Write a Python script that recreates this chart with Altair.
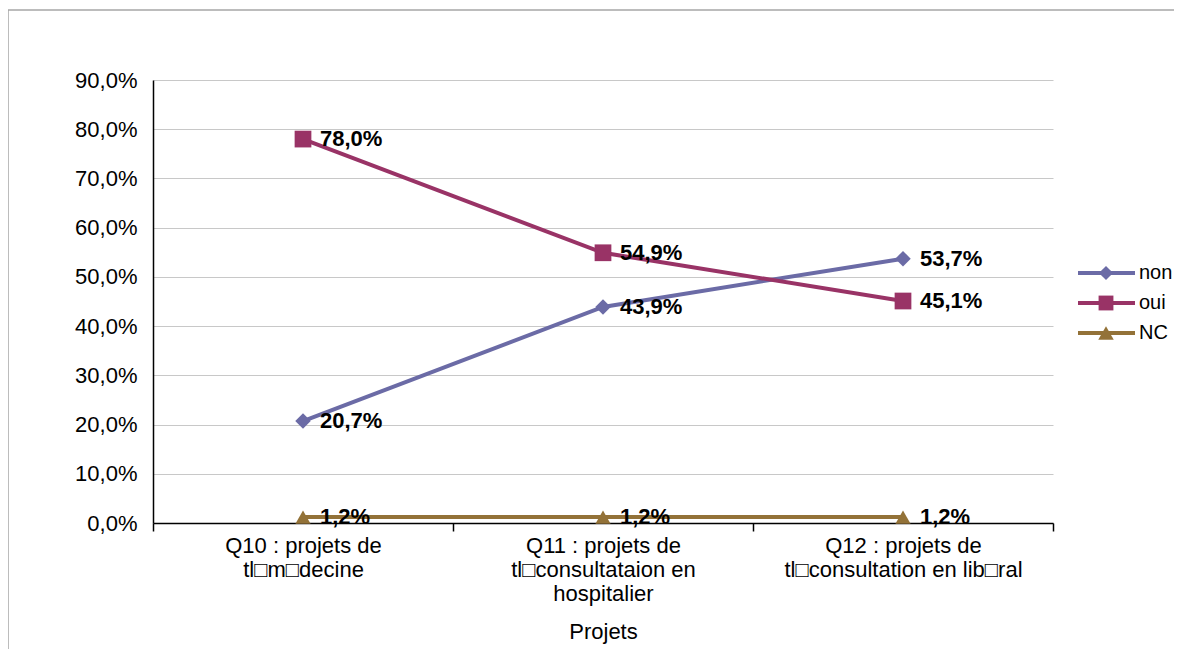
import altair as alt
import pandas as pd

categories = [
    "Q10 : projets de|tl\u25a1m\u25a1decine",
    "Q11 : projets de|tl\u25a1consultataion en|hospitalier",
    "Q12 : projets de|tl\u25a1consultation en lib\u25a1ral",
]
series_names = ["non", "oui", "NC"]
non_vals = [20.7, 43.9, 53.7]
oui_vals = [78.0, 54.9, 45.1]
nc_vals = [1.2, 1.2, 1.2]
y_ticks = [0, 10, 20, 30, 40, 50, 60, 70, 80, 90]
colors = ["#6B6BA6", "#993366", "#937238"]
shapes = ["diamond", "square", "triangle-up"]
shape_sizes = [240, 280, 230]

rows = []
for name, vals in zip(series_names, [non_vals, oui_vals, nc_vals]):
    for c, v in zip(categories, vals):
        rows.append({"cat": c, "series": name, "value": v,
                     "label": f"{v:.1f}".replace(".", ",") + "%"})
df = pd.DataFrame(rows)
legend_df = pd.DataFrame({"series": series_names})

FONT = "Liberation Sans"
FS = 22

x_enc = alt.X("cat:N", sort=categories, title="Projets",
              scale=alt.Scale(paddingInner=0, paddingOuter=0),
              axis=alt.Axis(labelExpr="split(datum.label, '|')", labelAngle=0,
                            tickBand="extent", tickSize=8, tickColor="black",
                            domainColor="black", domainWidth=1.5, tickWidth=1.5,
                            labelFontSize=FS, labelFont=FONT, labelColor="black",
                            labelPadding=4, labelLineHeight=24, labelLimit=0, grid=False,
                            titleFontSize=FS, titleFont=FONT, titleFontWeight="normal",
                            titleColor="black", titlePadding=17))
y_enc = alt.Y("value:Q", scale=alt.Scale(domain=[0, 90], nice=False), title=None,
              axis=alt.Axis(values=y_ticks,
                            labelExpr="replace(format(datum.value, '.1f'), '.', ',') + '%'",
                            ticks=False, domainColor="black", domainWidth=1.5,
                            gridColor="#c8c8c8", gridWidth=1,
                            labelFontSize=FS, labelFont=FONT, labelColor="black",
                            labelPadding=16))

color_scale = alt.Scale(domain=series_names, range=colors)
color_enc = alt.Color("series:N", scale=color_scale, legend=None)

base = alt.Chart(df)

lines = base.mark_line(strokeWidth=4).encode(
    x=x_enc, y=y_enc, color=color_enc, detail="series:N")

point_layers = []
for name, shp, sz in zip(series_names, shapes, shape_sizes):
    point_layers.append(
        base.transform_filter(alt.datum.series == name)
        .mark_point(filled=True, opacity=1, strokeWidth=0, shape=shp, size=sz)
        .encode(x=x_enc, y=y_enc, color=color_enc)
    )

labels = base.mark_text(align="left", baseline="middle", dx=17, fontSize=FS,
                        fontWeight="bold", font=FONT, color="black").encode(
    x=x_enc, y=y_enc, text="label:N")

main = alt.layer(lines, *point_layers, labels)

# legend built from the series list, placed with its own point scale
leg_y = alt.Y("series:N", sort=series_names, axis=None, title=None,
              scale=alt.Scale(type="point", domain=series_names, range=[193, 253], padding=0))
leg_base = alt.Chart(legend_df)
leg_rule = leg_base.mark_rule(strokeWidth=4).encode(
    x=alt.value(925), x2=alt.value(982), y=leg_y, color=color_enc)
leg_pts = leg_base.mark_point(filled=True, opacity=1, strokeWidth=0).encode(
    x=alt.value(953), y=leg_y, color=color_enc,
    shape=alt.Shape("series:N", scale=alt.Scale(domain=series_names, range=shapes), legend=None),
    size=alt.Size("series:N", scale=alt.Scale(domain=series_names, range=[200, 240, 200]),
                  legend=None))
leg_txt = leg_base.mark_text(align="left", baseline="middle", fontSize=20, font=FONT,
                             color="black").encode(
    x=alt.value(986), y=leg_y, text="series:N")
legend = alt.layer(leg_rule, leg_pts, leg_txt)

frame_data = alt.Data(values=[{"a": 1}])
top_line = alt.Chart(frame_data).mark_rule(color="#a6a6a6", strokeWidth=1.5).encode(
    x=alt.value(-145), x2=alt.value(1100), y=alt.value(-70))
left_line = alt.Chart(frame_data).mark_rule(color="#a6a6a6", strokeWidth=1.5).encode(
    x=alt.value(-145), y=alt.value(-70), y2=alt.value(600))
frame = alt.layer(top_line, left_line)

chart = alt.layer(frame, main, legend).resolve_scale(y="independent").properties(
    width=900, height=443,
    padding={"left": 145, "top": 72, "right": 121, "bottom": 126},
    autosize=alt.AutoSizeParams(type="none"),
).configure_view(stroke=None)

chart.save("out.html", embed_options={"renderer": "svg", "actions": False})
